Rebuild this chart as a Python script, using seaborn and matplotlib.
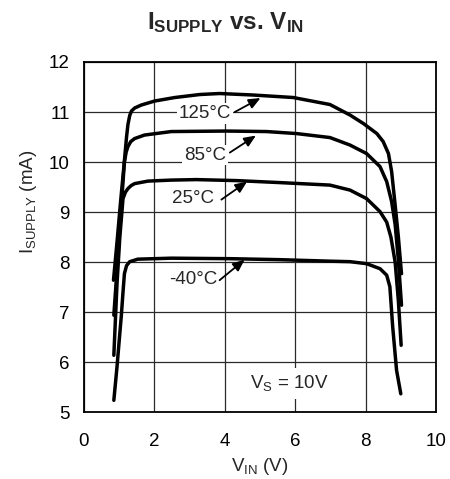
import matplotlib
matplotlib.use("Agg")
import matplotlib.pyplot as plt
import seaborn as sns
import pandas as pd

# Supply current vs input voltage at four temperatures (VS = 10 V)
vin_125 = [0.85, 0.95, 1.05, 1.15, 1.22, 1.26, 1.31, 1.36, 1.45, 1.64, 2.02, 2.59, 3.30,
           3.86, 4.81, 5.95, 6.99, 7.56, 7.94, 8.32, 8.50, 8.65, 8.74, 8.84, 8.93, 9.02]
isup_125 = [7.64, 8.40, 9.20, 9.95, 10.50, 10.75, 10.93, 11.02, 11.08, 11.14, 11.22, 11.29, 11.35,
            11.37, 11.34, 11.29, 11.15, 10.94, 10.77, 10.57, 10.41, 10.17, 9.81, 9.14, 8.51, 7.77]

vin_85 = [0.86, 0.95, 1.05, 1.16, 1.21, 1.26, 1.34, 1.45, 1.73, 2.49, 4.05, 5.19, 6.04,
          6.99, 7.56, 8.03, 8.41, 8.60, 8.74, 8.84, 8.93, 9.02]
isup_85 = [6.94, 7.85, 8.90, 10.00, 10.20, 10.31, 10.41, 10.47, 10.54, 10.61, 10.62, 10.61, 10.57,
           10.49, 10.34, 10.17, 9.91, 9.61, 9.21, 8.75, 8.05, 7.14]

vin_25 = [0.86, 0.95, 1.03, 1.12, 1.19, 1.26, 1.35, 1.45, 1.83, 2.49, 3.20, 4.34, 5.57,
          6.99, 7.56, 8.03, 8.41, 8.60, 8.72, 8.84, 8.93, 9.01]
isup_25 = [6.14, 7.57, 8.50, 9.27, 9.40, 9.47, 9.53, 9.57, 9.62, 9.64, 9.65, 9.63, 9.59,
           9.54, 9.44, 9.27, 9.01, 8.80, 8.50, 8.00, 7.24, 6.34]

vin_m40 = [0.86, 0.95, 1.02, 1.07, 1.12, 1.16, 1.22, 1.31, 1.54, 2.49, 4.15, 5.57, 6.99,
           7.56, 8.03, 8.41, 8.60, 8.69, 8.77, 8.88, 9.00]
isup_m40 = [5.24, 5.91, 6.50, 6.91, 7.40, 7.77, 7.93, 8.01, 8.06, 8.08, 8.07, 8.05, 8.02,
            8.01, 7.97, 7.87, 7.74, 7.51, 6.71, 5.84, 5.37]

curve_labels = ["125°C", "85°C", "25°C", "-40°C"]
# label centre, arrow tail, arrow head (V, mA)
label_xy = [(3.44, 10.97), (3.45, 10.14), (3.10, 9.27), (3.10, 7.65)]
arrow_tail = [(4.29, 11.00), (4.15, 10.19), (3.91, 9.25), (3.86, 7.64)]
arrow_head = [(5.02, 11.28), (4.89, 10.53), (4.64, 9.61), (4.57, 8.05)]

x_ticks = [0, 2, 4, 6, 8, 10]
y_ticks = [5, 6, 7, 8, 9, 10, 11, 12]

sns.set_style("white")
plt.rcParams["font.family"] = ["Liberation Sans", "DejaVu Sans"]
plt.rcParams["mathtext.fontset"] = "custom"
plt.rcParams["mathtext.rm"] = "Liberation Sans"
plt.rcParams["mathtext.it"] = "Liberation Sans:italic"
plt.rcParams["mathtext.bf"] = "Liberation Sans:bold"

fig = plt.figure(figsize=(4.5, 4.79), dpi=100)
ax = fig.add_axes([0.1856, 0.1392, 0.7834, 0.7314])

frames = []
for name, v, i in [("125", vin_125, isup_125), ("85", vin_85, isup_85),
                   ("25", vin_25, isup_25), ("-40", vin_m40, isup_m40)]:
    frames.append(pd.DataFrame({"vin": v, "isupply": i, "temp": name}))
df = pd.concat(frames, ignore_index=True)

sns.lineplot(data=df, x="vin", y="isupply", units="temp", estimator=None, sort=False,
             color="black", lw=2.5, ax=ax, zorder=4, legend=False)
for ln in ax.lines:
    ln.set_solid_joinstyle("round")
    ln.set_solid_capstyle("round")

ax.set_xlim(0, 10)
ax.set_ylim(5, 12)
ax.set_xticks(x_ticks)
ax.set_yticks(y_ticks)
ax.tick_params(axis="both", length=0, labelsize=13.5, colors="black")
ax.tick_params(axis="x", pad=15)
ax.tick_params(axis="y", pad=10)
ax.grid(True, color="#2a2a2a", lw=0.9)
ax.set_axisbelow(True)
for sp in ax.spines.values():
    sp.set_color("black")
    sp.set_linewidth(1.3)

for lab, lxy, tail, head in zip(curve_labels, label_xy, arrow_tail, arrow_head):
    ax.text(lxy[0], lxy[1], lab, fontsize=13.5, ha="center", va="center", zorder=3,
            bbox=dict(boxstyle="square,pad=0.1", fc="white", ec="none"))
    ax.annotate("", xy=head, xytext=tail, zorder=5,
                arrowprops=dict(arrowstyle="-|>,head_length=0.7,head_width=0.3",
                                color="black", lw=1.3, shrinkA=0, shrinkB=0))

ax.text(5.85, 5.58, r"V$_\mathrm{S}$ = 10V", fontsize=13.5, ha="center", va="center",
        zorder=3, bbox=dict(boxstyle="square,pad=0.3", fc="white", ec="none"))

ax.set_xlabel(r"V$_\mathrm{IN}$ (V)", fontsize=13.5)
ax.set_ylabel(r"I$_\mathrm{SUPPLY}$ (mA)", fontsize=13.5)
ax.xaxis.set_label_coords(0.5, -0.125)
ax.yaxis.set_label_coords(-0.125, 0.6)

fig.text(0.502, 0.953, r"$\mathbf{I_{SUPPLY}}$ vs. $\mathbf{V_{IN}}$", fontsize=17.5,
         fontweight="bold", ha="center", va="center")

fig.savefig("out.png", dpi=100, facecolor="white")
